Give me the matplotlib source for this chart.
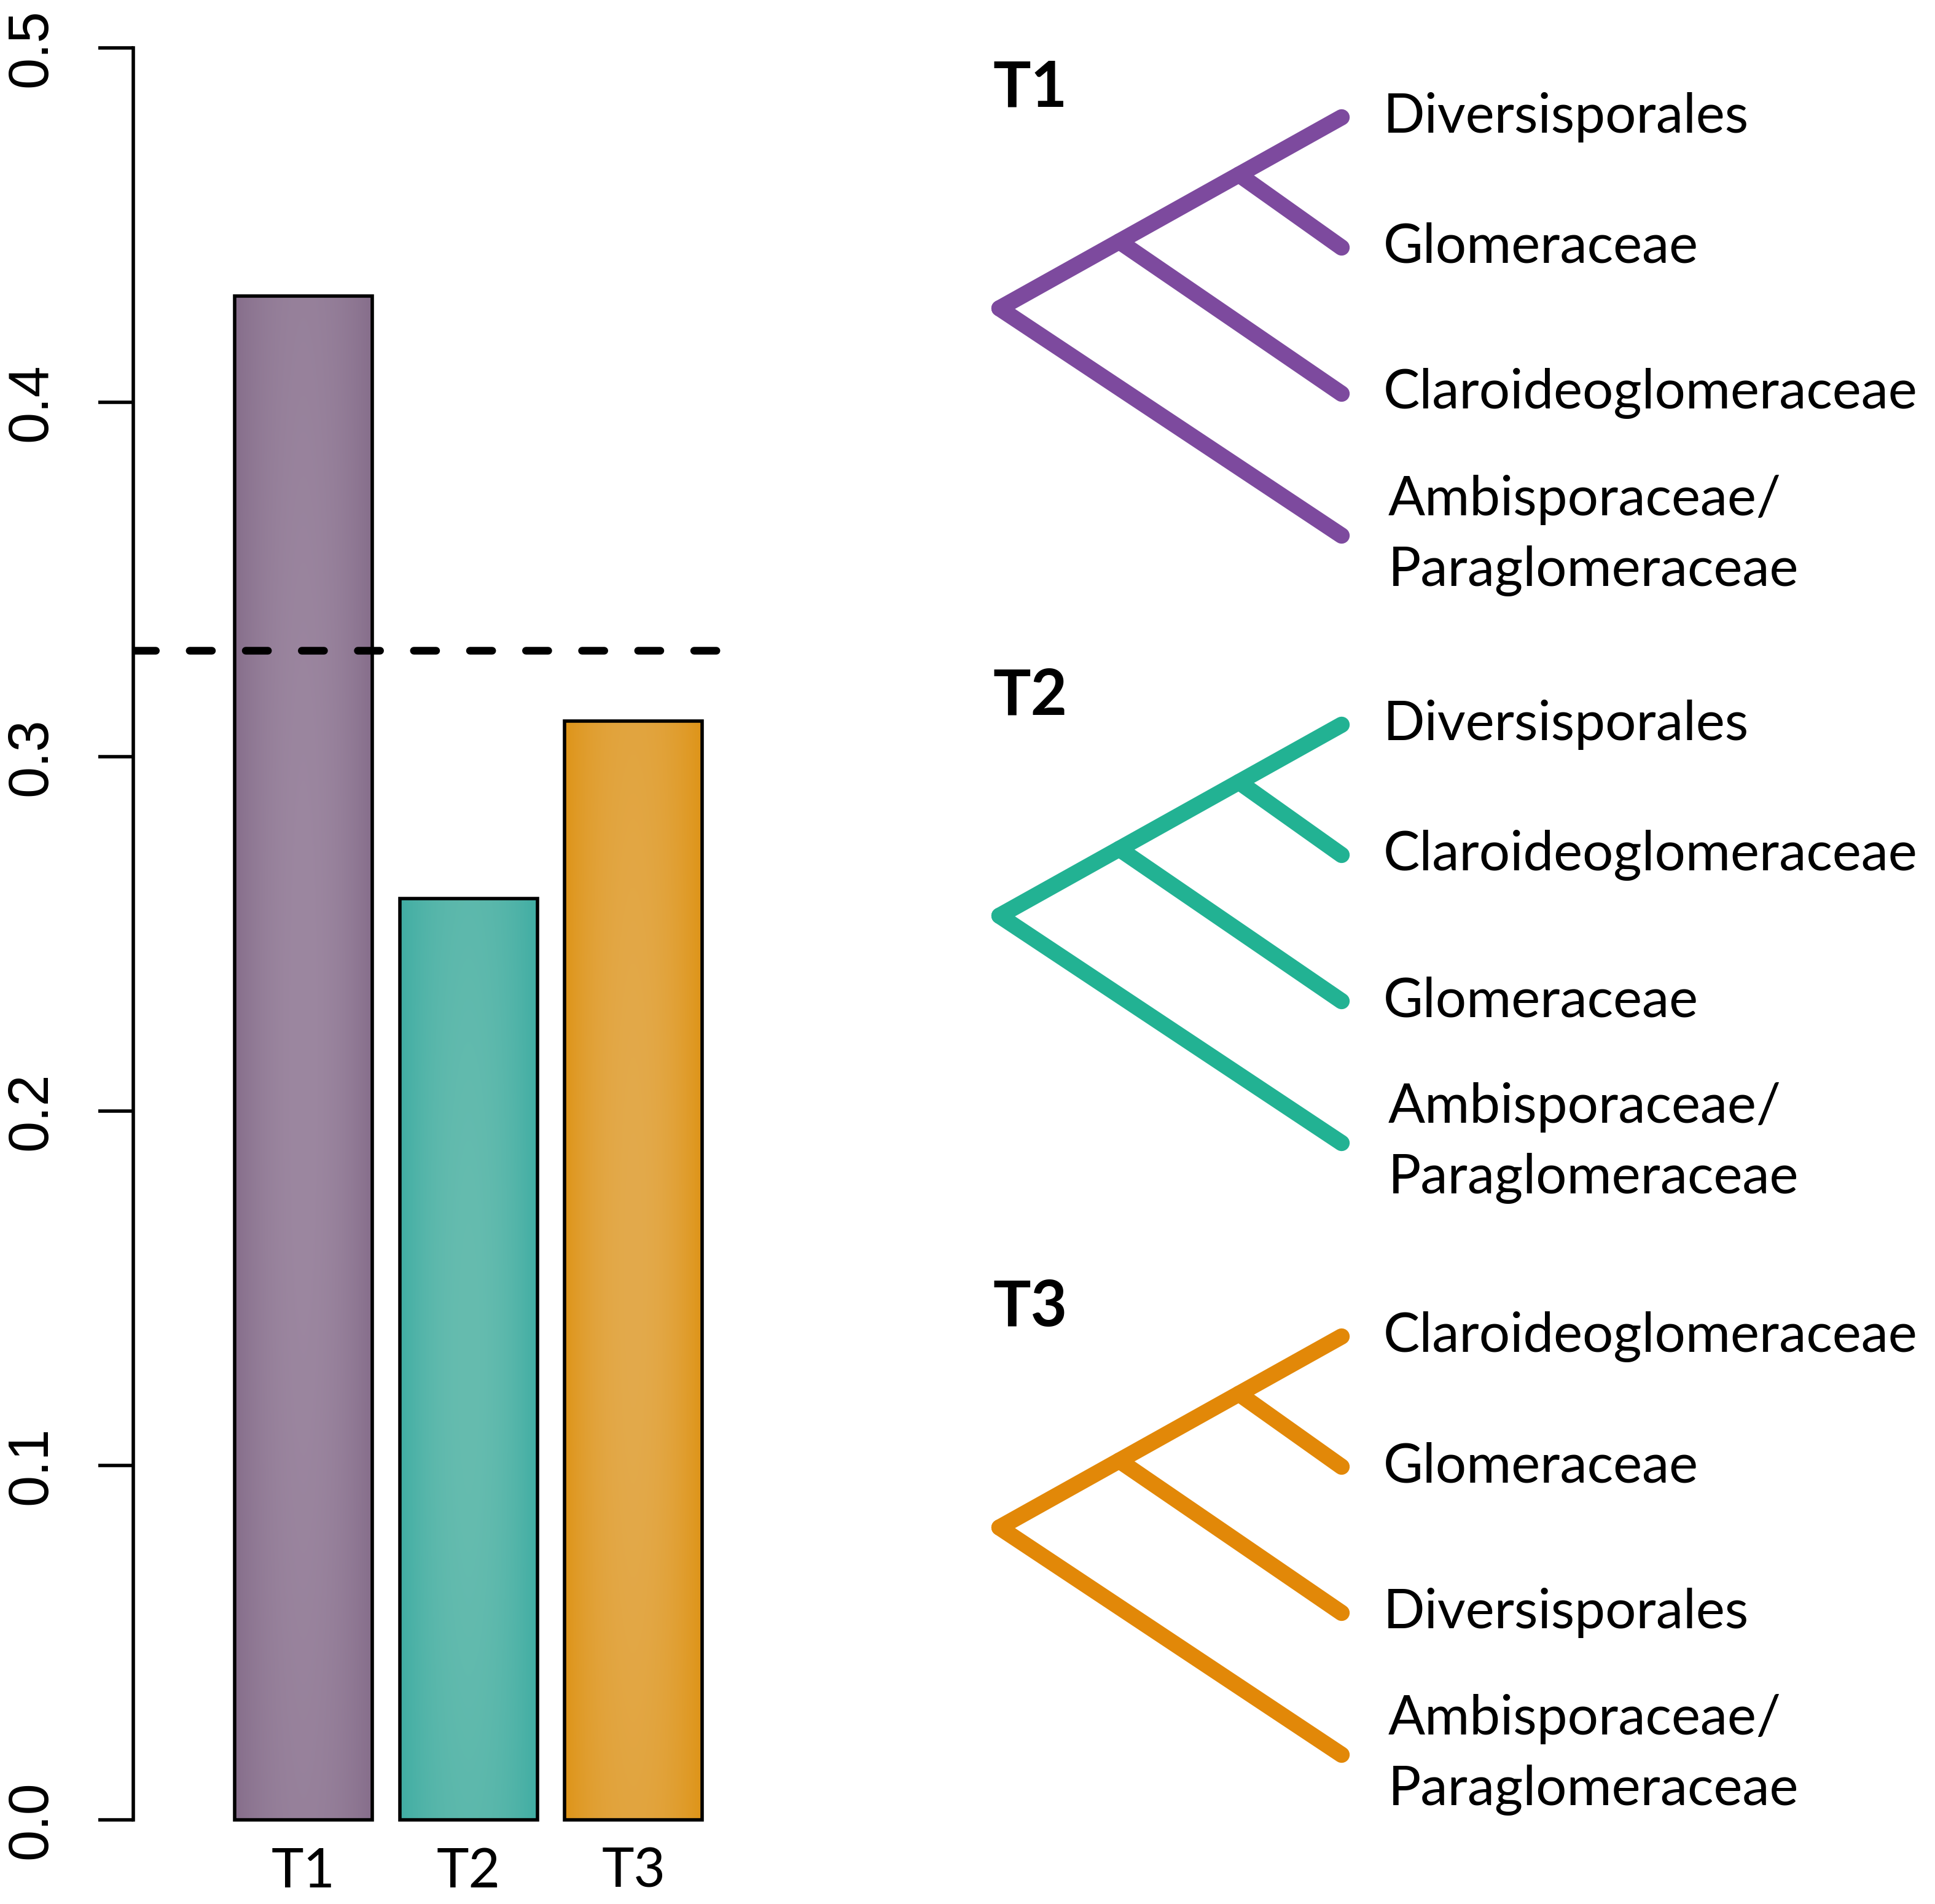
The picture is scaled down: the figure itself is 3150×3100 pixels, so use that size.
import numpy as np
import matplotlib.pyplot as plt
from matplotlib.colors import to_rgb

# bar chart data
treatments = ['T1', 'T2', 'T3']
proportion = [0.43, 0.26, 0.31]
expected = 0.33          # dashed reference line
yticks = [0.0, 0.1, 0.2, 0.3, 0.4, 0.5]

bar_light = ['#9C87A0', '#66BCAF', '#E3AA4C']
bar_dark = ['#866E8B', '#40ADA3', '#DE9418']
tree_colors = ['#7D4A9E', '#22B293', '#E28808']

# tree tip order (top to bottom), ladder topology (((A,B),C),D)
tip_labels = {
    'T1': ['Diversisporales', 'Glomeraceae', 'Claroideoglomeraceae',
           'Ambisporaceae/\nParaglomeraceae'],
    'T2': ['Diversisporales', 'Claroideoglomeraceae', 'Glomeraceae',
           'Ambisporaceae/\nParaglomeraceae'],
    'T3': ['Claroideoglomeraceae', 'Glomeraceae', 'Diversisporales',
           'Ambisporaceae/\nParaglomeraceae'],
}
tip_offsets = [-311, -99, 139, 370]   # tip heights relative to the root
node_depth = [0.70, 0.35]             # where tips 2 and 3 join the top branch
tree_length = 557
tree_root_x = 1627
tree_root_y = [502, 1491, 2487]

W, H = 3150, 3100
fig = plt.figure(figsize=(W / 100, H / 100), dpi=100)

num_font = ['Liberation Sans', 'DejaVu Sans']
lab_font = ['Lato', 'DejaVu Sans']

# ---- bar chart ----
ax = fig.add_axes([217 / W, 1 - 2963 / H, (1195 - 217) / W, (2963 - 78) / H])
left = 0.2 + 1.2 * np.arange(len(treatments))
centers = left + 0.5

bars = ax.bar(centers, proportion, width=1.0, facecolor='none',
              edgecolor='black', linewidth=4, zorder=3, clip_on=False)

# shaded fill inside each bar
t = np.linspace(-1, 1, 200)
s = np.linspace(0, 1, 300)[:, None]
for b, lo, hi in zip(bars, bar_dark, bar_light):
    f = (1 - t[None, :] ** 2) * (0.75 + 0.25 * np.sin(np.pi * s))
    img = np.array(to_rgb(lo))[None, None, :] + \
        (np.array(to_rgb(hi)) - np.array(to_rgb(lo)))[None, None, :] * f[..., None]
    x0, y0 = b.get_x(), b.get_y()
    im = ax.imshow(img, extent=[x0, x0 + b.get_width(), y0, y0 + b.get_height()],
                   aspect='auto', origin='lower', zorder=2, interpolation='bilinear')
    im.set_clip_path(b)

ax.axhline(expected, color='black', linewidth=9, zorder=4,
           dashes=(2.9, 4.4), dash_capstyle='round')

ax.set_xlim((217 - 337) / 224, (1195 - 337) / 224)
ax.set_ylim(0, 0.5)
for sp in ['top', 'right', 'bottom']:
    ax.spines[sp].set_visible(False)
ax.spines['left'].set_linewidth(4)

ax.set_yticks(yticks)
ax.set_yticklabels([f'{v:.1f}' for v in yticks], rotation=90,
                   fontsize=66, family=num_font, ha='center', va='center')
ax.tick_params(axis='y', length=41, width=4, pad=78)

ax.set_xticks(centers)
ax.set_xticklabels(treatments, fontsize=64, family=lab_font, va='center')
ax.tick_params(axis='x', length=0, pad=61)

# ---- trees ----
tx = fig.add_axes([0, 0, 1, 1], zorder=-1)
tx.set_xlim(0, W)
tx.set_ylim(H, 0)
tx.axis('off')

for name, ry, col in zip(treatments, tree_root_y, tree_colors):
    tips_y = [ry + o for o in tip_offsets]
    tip_x = tree_root_x + tree_length
    segs = [((tree_root_x, ry), (tip_x, tips_y[0])),
            ((tree_root_x, ry), (tip_x, tips_y[3]))]
    for k, d in zip([1, 2], node_depth):
        nx = tree_root_x + d * tree_length
        ny = ry + d * tip_offsets[0]
        segs.append(((nx, ny), (tip_x, tips_y[k])))
    for (a, b) in segs:
        tx.plot([a[0], b[0]], [a[1], b[1]], color=col, linewidth=19,
                solid_capstyle='round', solid_joinstyle='round')
    for lab, yy in zip(tip_labels[name], tips_y):
        tx.text(tip_x + 68 + (8 if '\n' in lab else 0), yy,
                lab, fontsize=64, family=lab_font, ha='left', va='center',
                linespacing=1.5)
    tx.text(tree_root_x - 10, ry - 358, name, fontsize=74, family=lab_font,
            fontweight='bold', ha='left', va='center')

fig.savefig('out.png', dpi=100)
